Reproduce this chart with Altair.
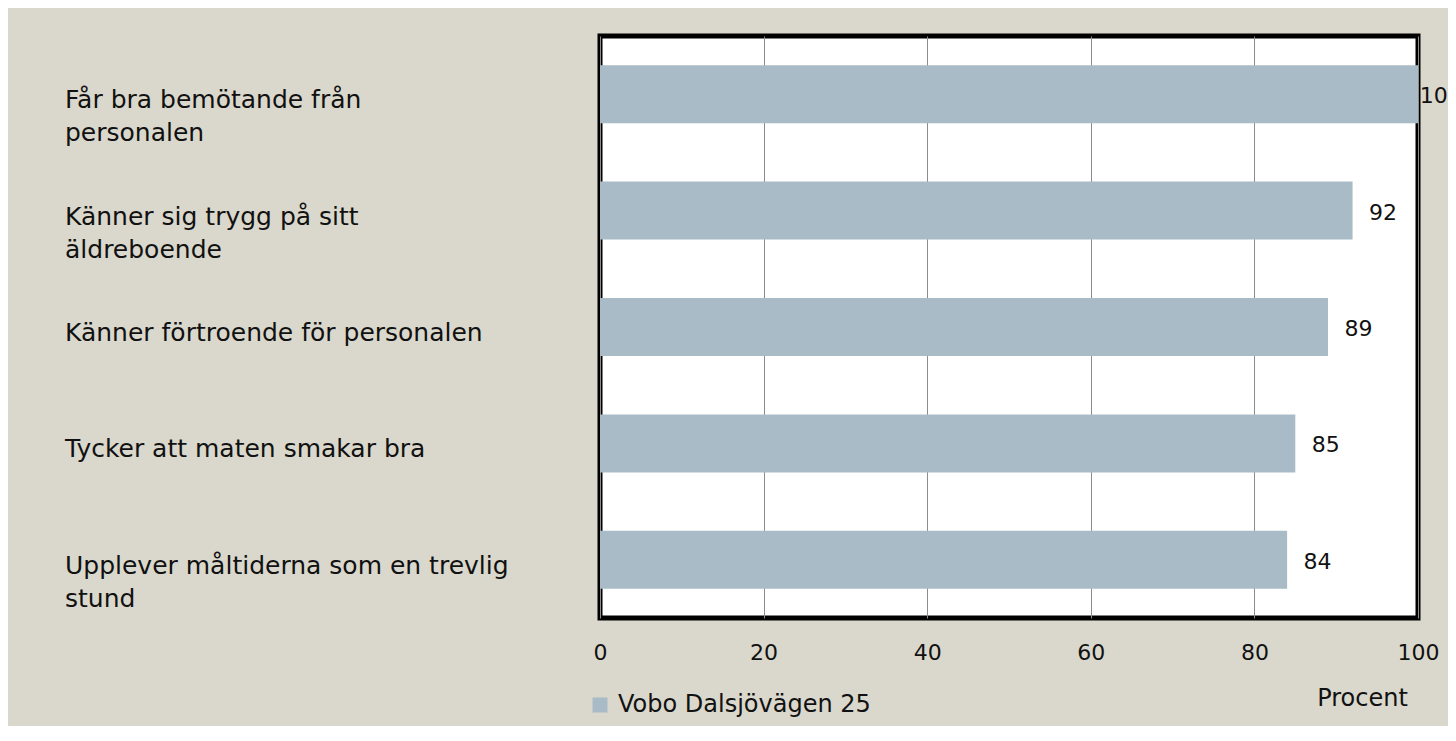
import altair as alt
import pandas as pd

categories = [
    "Får bra bemötande från personalen",
    "Känner sig trygg på sitt äldreboende",
    "Känner förtroende för personalen",
    "Tycker att maten smakar bra",
    "Upplever måltiderna som en trevlig stund",
]
line1 = [
    "Får bra bemötande från",
    "Känner sig trygg på sitt",
    "Känner förtroende för personalen",
    "Tycker att maten smakar bra",
    "Upplever måltiderna som en trevlig",
]
line2 = ["personalen", "äldreboende", "", "", "stund"]
values = [100, 92, 89, 85, 84]
series = "Vobo Dalsjövägen 25"
x_ticks = [0, 20, 40, 60, 80, 100]

df = pd.DataFrame({
    "cat": categories,
    "l1": line1,
    "l2": line2,
    "v": values,
    "s": [series] * len(categories),
})

FONT = "DejaVu Sans"
BAR = "#A8BBC6"
BG = "#DAD8CC"
TXT = "#111111"

yenc = alt.Y("cat:N", sort=categories, axis=None,
             scale=alt.Scale(paddingInner=0.5, paddingOuter=0.25))

bars = alt.Chart(df).mark_bar(size=58).encode(
    x=alt.X("v:Q", scale=alt.Scale(domain=[0, 100], nice=False),
            axis=alt.Axis(values=x_ticks, title="Procent", grid=True, gridColor="#8C8C8C",
                          gridWidth=1, ticks=False, domain=False, labelFontSize=22,
                          labelColor=TXT, labelPadding=34, labelBaseline="middle",
                          labelFont=FONT, labelFlush=False,
                          titleFont=FONT, titleFontSize=24, titleFontWeight="normal",
                          titleColor=TXT, titleX=762, titleY=80,
                          titleAlign="center", titleBaseline="middle")),
    y=yenc,
    color=alt.Color("s:N", scale=alt.Scale(range=[BAR]),
                    legend=alt.Legend(title=None, orient="none", legendX=-12, legendY=657,
                                      symbolType="square", symbolSize=225,
                                      symbolStrokeWidth=0, labelFontSize=24,
                                      labelLimit=500,
                                      labelFont=FONT, labelColor=TXT, labelOffset=6)),
)

# value labels sit just right of the bar end; the full-length bar's label hugs the frame
vals = alt.Chart(df).transform_calculate(
    lx="datum.v >= 100 ? datum.v + 0.2 : datum.v + 2"
).mark_text(align="left", baseline="middle", dy=2,
            fontSize=22, font=FONT, color=TXT).encode(
    x=alt.X("lx:Q", scale=alt.Scale(domain=[0, 100], nice=False)), y=yenc, text="v:Q")

lab1 = alt.Chart(df).mark_text(align="left", baseline="middle", dy=6,
                               fontSize=25, font=FONT, color=TXT).encode(
    x=alt.value(-535), y=yenc, text="l1:N")
lab2 = alt.Chart(df).mark_text(align="left", baseline="middle", dy=39,
                               fontSize=25, font=FONT, color=TXT).encode(
    x=alt.value(-535), y=yenc, text="l2:N")

chart = alt.layer(bars, vals, lab1, lab2).properties(
    width=818, height=582,
    autosize=alt.AutoSizeParams(type="none"),
    padding={"left": 592, "top": 28, "right": 30, "bottom": 108},
    background=BG,
).configure_view(stroke="black", strokeWidth=5, fill="white")

chart.save("out.html", embed_options={"renderer": "svg", "actions": False})
